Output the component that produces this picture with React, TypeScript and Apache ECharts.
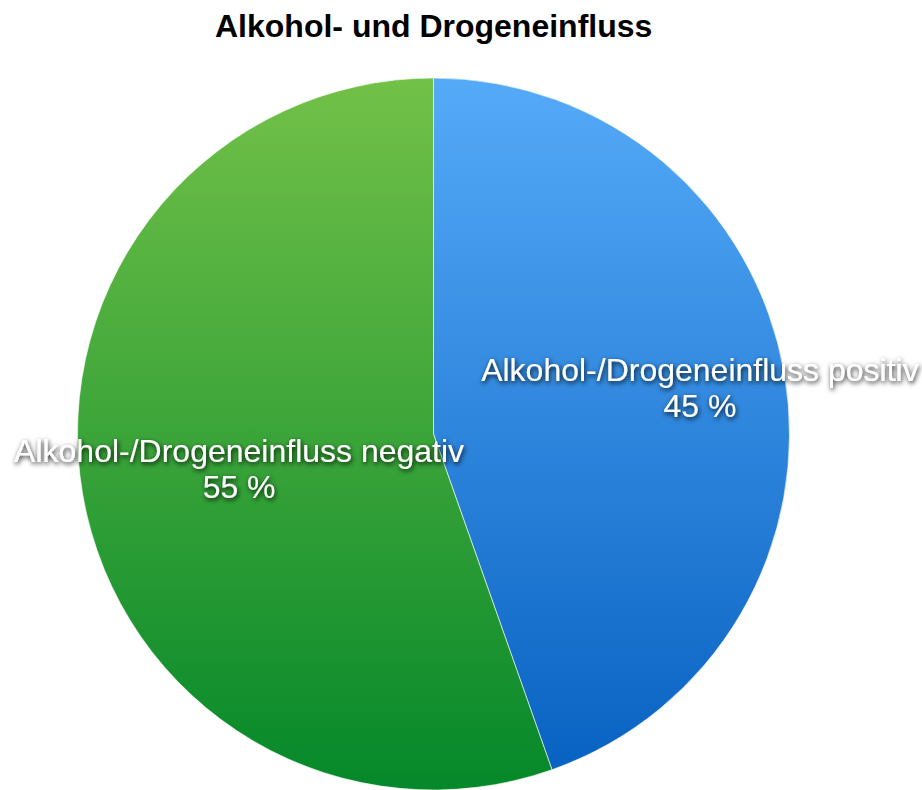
import React, { useEffect, useRef } from "react";
import * as echarts from "echarts";

const titleText = "Alkohol- und Drogeneinfluss";
const categories = ["Alkohol-/Drogeneinfluss positiv", "Alkohol-/Drogeneinfluss negativ"];
const values = [44.6, 55.4];
const topColors = ["#55aaf8", "#72c148"];
const bottomColors = ["#0660c0", "#05882a"];
const labelShift = [
  [88, -15],
  [-16, 4],
];

export default function App() {
  const ref = useRef<HTMLDivElement>(null);
  useEffect(() => {
    if (!ref.current) return;
    const chart = echarts.init(ref.current, null, { renderer: "svg" });
    const data = categories.map((name, i) => ({
      name,
      value: values[i],
      itemStyle: {
        color: {
          type: "linear",
          x: 0,
          y: 78,
          x2: 0,
          y2: 790,
          global: true,
          colorStops: [
            { offset: 0, color: topColors[i] },
            { offset: 1, color: bottomColors[i] },
          ],
        },
      },
    }));
    chart.setOption({
      animation: false,
      backgroundColor: "#ffffff",
      title: {
        text: titleText,
        left: 210,
        top: 5,
        textStyle: {
          fontFamily: "'Liberation Sans', Arial, Helvetica, sans-serif",
          fontWeight: "bold",
          fontSize: 32,
          color: "#000000",
        },
      },
      series: [
        {
          type: "pie",
          center: [433.5, 434],
          radius: 356,
          startAngle: 90,
          clockwise: true,
          avoidLabelOverlap: false,
          itemStyle: {
            borderColor: "rgba(255,255,255,0.6)",
            borderWidth: 1,
          },
          emphasis: { disabled: true },
          label: {
            show: true,
            position: "inside",
            formatter: (p: any) => `${p.name}\n${Math.round(p.percent)} %`,
            color: "#ffffff",
            fontFamily: "'Liberation Sans', Arial, Helvetica, sans-serif",
            fontSize: 32,
            lineHeight: 36,
            textShadowColor: "rgba(0,0,0,0.9)",
            textShadowBlur: 5,
            textShadowOffsetX: 1,
            textShadowOffsetY: 2,
          },
          labelLine: { show: false },
          labelLayout: (params: any) => ({
            dx: labelShift[params.dataIndex][0],
            dy: labelShift[params.dataIndex][1],
          }),
          data,
        },
      ],
    });
    return () => chart.dispose();
  }, []);
  return (
    <div
      ref={ref}
      style={{ position: "fixed", left: 0, top: 0, width: 922, height: 790 }}
    />
  );
}
